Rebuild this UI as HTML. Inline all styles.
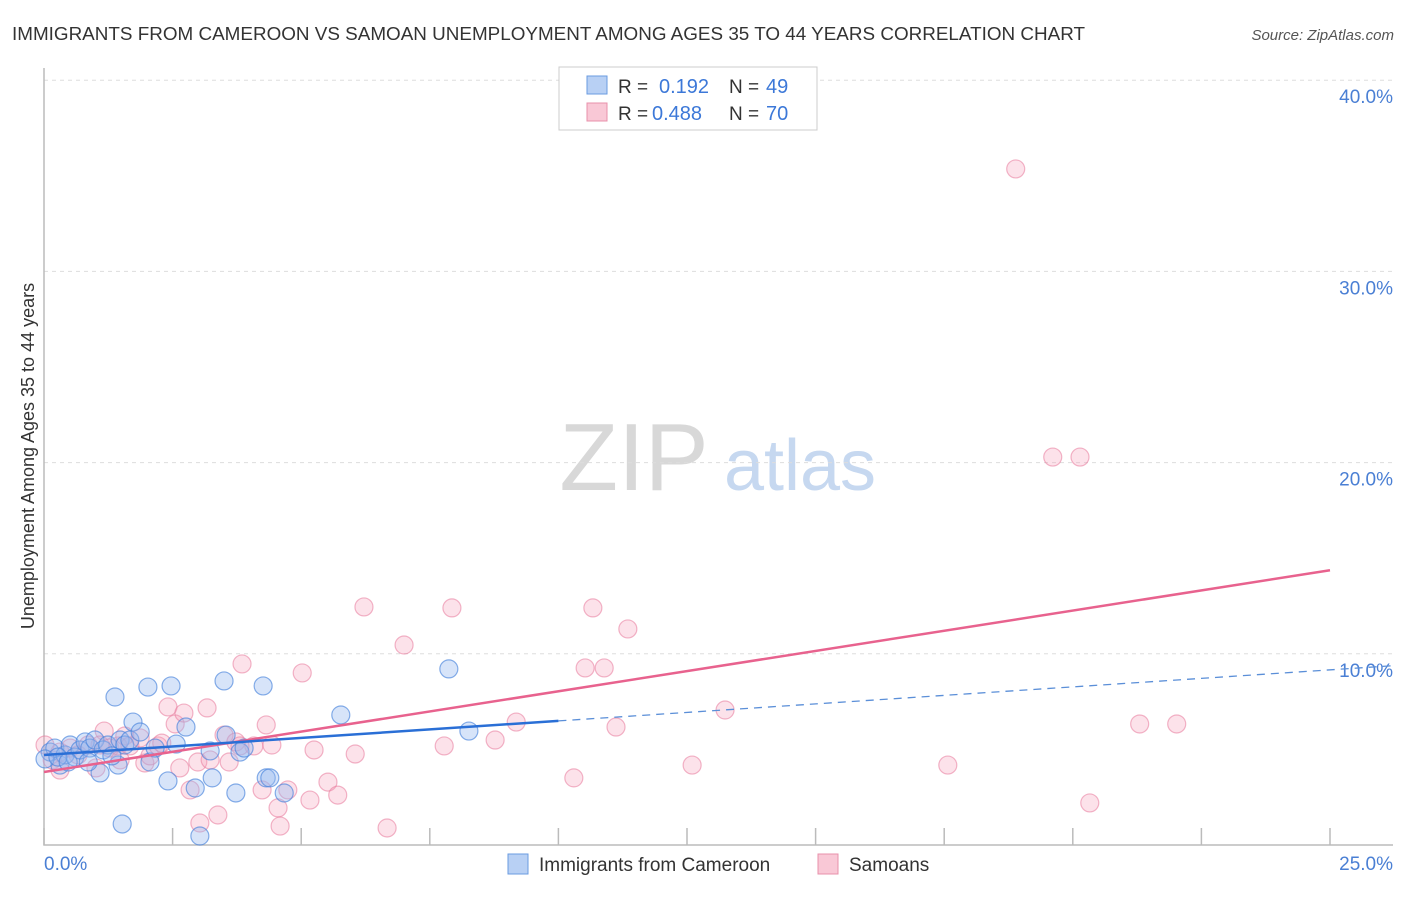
<!DOCTYPE html>
<html><head><meta charset="utf-8"><style>
body{margin:0;background:#fff;font-family:"Liberation Sans",sans-serif}
svg text{font-family:"Liberation Sans",sans-serif}
</style></head><body>
<svg width="1406" height="892" xmlns="http://www.w3.org/2000/svg">
<text x="12" y="40" font-size="18" fill="#333" textLength="1073" lengthAdjust="spacingAndGlyphs">IMMIGRANTS FROM CAMEROON VS SAMOAN UNEMPLOYMENT AMONG AGES 35 TO 44 YEARS CORRELATION CHART</text>
<text x="1394" y="40" font-size="15" fill="#555" font-style="italic" text-anchor="end">Source: ZipAtlas.com</text>
<g>
<text x="634" y="490" font-size="96" fill="#d8d8d8" font-family="Liberation Serif" text-anchor="middle">ZIP</text>
<text x="800" y="490" font-size="72" fill="#c6d8f0" text-anchor="middle">atlas</text>
</g>
<g id="grid"></g>
<g id="axes"></g>
<g id="pts"></g>
<g id="lines"></g>
<text transform="translate(34,456) rotate(-90)" font-size="18" fill="#333" text-anchor="middle">Unemployment Among Ages 35 to 44 years</text>
<g>
<rect x="559" y="67" width="258" height="63" fill="#fff" stroke="#ccc"/>
<rect x="587" y="76" width="20" height="18" fill="#b8d0f4" stroke="#6a9be0"/>
<rect x="587" y="103" width="20" height="18" fill="#f9c8d6" stroke="#e890ab"/>
<text x="618" y="93" font-size="19" fill="#333">R =</text>
<text x="659" y="93" font-size="20" fill="#3c78d8">0.192</text>
<text x="729" y="93" font-size="19" fill="#333">N =</text>
<text x="766" y="93" font-size="20" fill="#3c78d8">49</text>
<text x="618" y="120" font-size="19" fill="#333">R =</text>
<text x="652" y="120" font-size="20" fill="#3c78d8">0.488</text>
<text x="729" y="120" font-size="19" fill="#333">N =</text>
<text x="766" y="120" font-size="20" fill="#3c78d8">70</text>
</g>
<g>
<rect x="508" y="854" width="20" height="20" fill="#b8d0f4" stroke="#6a9be0"/>
<text x="539" y="871" font-size="19" fill="#333">Immigrants from Cameroon</text>
<rect x="818" y="854" width="20" height="20" fill="#f9c8d6" stroke="#e890ab"/>
<text x="849" y="871" font-size="19" fill="#333">Samoans</text>
</g>
</svg>
<script>
const xTicks=[0,2.5,5,7.5,10,12.5,15,17.5,20,22.5,25];
const yTicks=[10,20,30,40];
const yTickLabels=["10.0%","20.0%","30.0%","40.0%"];
const xTickLabels=["0.0%","25.0%"];
const blueX=[0.12,0.21,0.31,0.41,0.51,0.60,0.70,0.80,0.89,0.99,1.09,1.15,1.24,1.38,1.44,1.48,1.52,1.57,1.67,1.73,1.87,2.02,2.06,2.16,2.41,2.47,2.57,2.76,2.94,3.03,3.23,3.27,3.50,3.54,3.73,3.81,3.89,4.26,4.32,4.39,4.67,5.77,7.87,8.26,0.02,0.27,0.47,0.86,1.32];
const blueY=[4.86,5.07,4.18,4.71,5.23,4.60,4.97,5.39,5.07,5.49,3.77,4.97,5.23,7.74,4.18,5.49,1.10,5.23,5.49,6.43,5.91,8.26,4.34,5.07,3.35,8.32,5.28,6.17,2.98,0.47,4.92,3.51,8.58,5.75,2.72,4.86,5.07,8.32,3.51,3.51,2.72,6.80,9.21,5.96,4.50,4.60,4.34,4.34,4.66];
const pinkX=[0.02,0.16,0.31,0.51,0.66,0.86,1.01,1.17,1.28,1.44,1.57,1.67,1.87,1.96,2.06,2.22,2.29,2.41,2.55,2.64,2.72,2.84,2.99,3.03,3.17,3.23,3.38,3.50,3.60,3.73,3.85,4.08,4.24,4.32,4.43,4.55,4.59,4.74,5.02,5.17,5.25,5.52,5.71,6.05,6.22,6.67,7.00,7.78,7.93,8.77,9.18,10.30,10.52,10.67,10.89,11.12,11.35,12.60,13.24,17.57,18.89,19.61,20.14,20.33,21.30,22.02,0.31,1.48,3.81,1.09];
const pinkY=[5.23,4.45,4.86,5.07,4.71,5.23,4.03,5.96,5.07,5.18,5.70,5.18,5.60,4.29,4.66,5.18,5.33,7.22,6.33,4.03,6.90,2.88,4.34,1.15,7.17,4.45,1.57,5.75,4.34,5.39,9.47,5.18,2.88,6.28,5.23,1.94,0.99,2.88,9.00,2.35,4.97,3.29,2.61,4.76,12.45,0.89,10.46,5.18,12.40,5.49,6.43,3.51,9.26,12.40,9.26,6.17,11.30,4.18,7.06,4.18,35.36,20.29,20.29,2.20,6.33,6.33,3.92,4.45,5.18,5.23];
const blueLine=[4.71,0.178], pinkLine=[3.82,0.422];
const NS="http://www.w3.org/2000/svg";
const X=v=>44+v*51.44, Y=v=>845-v*19.12;
function mk(t,a,p){const e=document.createElementNS(NS,t);for(const k in a)e.setAttribute(k,a[k]);p.appendChild(e);return e;}
const grid=document.getElementById('grid'),axes=document.getElementById('axes'),pts=document.getElementById('pts'),lines=document.getElementById('lines');
yTicks.forEach((v,i)=>{
 const l=mk('line',{x1:44,x2:1393,y1:Y(v),y2:Y(v),stroke:'#ddd','stroke-dasharray':'4,4'},grid);
 
 
 const t=mk('text',{x:1393,y:Y(v)+23,'font-size':19,fill:'#4a7fd4','text-anchor':'end'},axes);
 t.textContent=yTickLabels[i];
 
 
});
const ax=mk('path',{d:'M44 68V845H1393',stroke:'#bbb',fill:'none','stroke-width':1.5},axes);


xTicks.forEach(v=>{
 const t=mk('line',{x1:X(v),x2:X(v),y1:828,y2:845,stroke:'#bbb','stroke-width':1.5},axes);
 
 
});
[[0,'start',44],[25,'end',1393]].forEach((d,i)=>{
 const t=mk('text',{x:d[2],y:870,'font-size':19,fill:'#4a7fd4','text-anchor':d[1]},axes);
 t.textContent=xTickLabels[i];
 
 
});
pinkX.forEach((x,i)=>{
 const c=mk('circle',{cx:X(x),cy:Y(pinkY[i]),r:9,fill:'rgba(244,160,185,0.3)',stroke:'rgba(232,120,155,0.55)','stroke-width':1.2},pts);
 
 
});
blueX.forEach((x,i)=>{
 const c=mk('circle',{cx:X(x),cy:Y(blueY[i]),r:9,fill:'rgba(150,185,240,0.38)',stroke:'rgba(70,130,220,0.65)','stroke-width':1.2},pts);
 
 
});
const bf=x=>blueLine[0]+blueLine[1]*x, pf=x=>pinkLine[0]+pinkLine[1]*x;
let e=mk('line',{x1:X(0),y1:Y(pf(0)),x2:X(25),y2:Y(pf(25)),stroke:'#e8628e','stroke-width':2.5},lines);


e=mk('line',{x1:X(10),y1:Y(bf(10)),x2:1393,y2:Y(bf((1393-44)/51.44)),stroke:'#5b8fd8','stroke-width':1.3,'stroke-dasharray':'8,6'},lines);


e=mk('line',{x1:X(0),y1:Y(bf(0)),x2:X(10),y2:Y(bf(10)),stroke:'#2a6fd6','stroke-width':2.5},lines);


</script>
</body></html>
